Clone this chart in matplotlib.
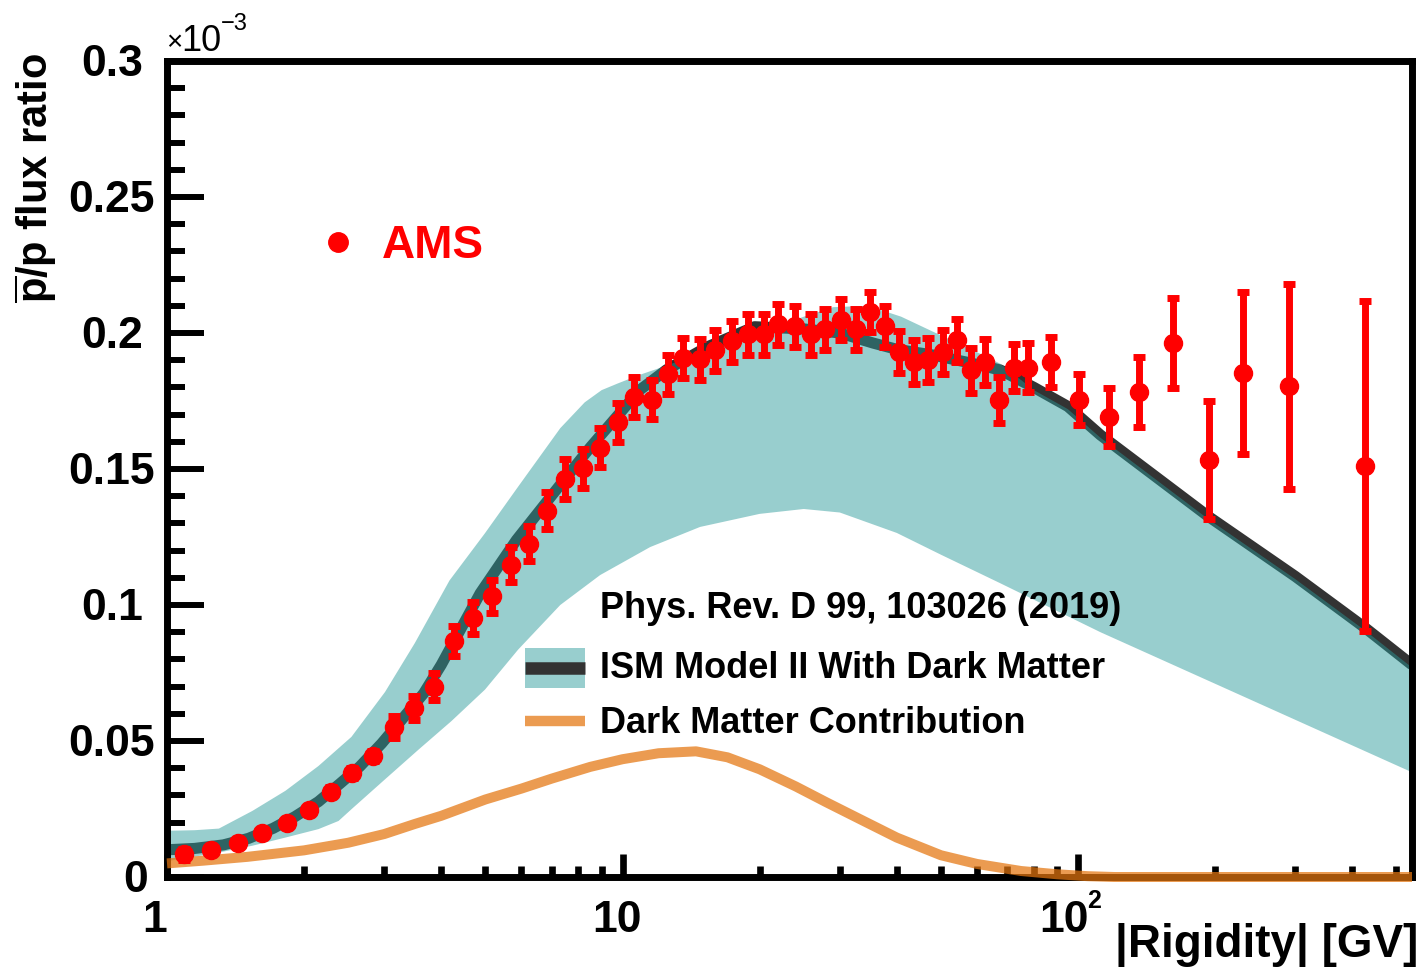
import numpy as np
import matplotlib
matplotlib.use("Agg")
import matplotlib.pyplot as plt
from matplotlib import transforms
from matplotlib.ticker import FixedLocator, MultipleLocator, NullFormatter
from matplotlib.patches import Rectangle
from matplotlib.lines import Line2D

plt.rcParams['font.family'] = ['Liberation Sans', 'DejaVu Sans']
plt.rcParams['mathtext.fontset'] = 'custom'
plt.rcParams['mathtext.rm'] = 'Liberation Sans'
plt.rcParams['mathtext.bf'] = 'Liberation Sans:bold'

# AMS antiproton-to-proton flux ratio (units of 1e-3)
ams_rigidity = [1.09, 1.25, 1.43, 1.62, 1.83, 2.05, 2.29, 2.55, 2.84, 3.15,
                3.49, 3.86, 4.26, 4.69, 5.16, 5.68, 6.23, 6.82, 7.47, 8.17,
                8.93, 9.75, 10.6, 11.6, 12.6, 13.6, 14.8, 16.0, 17.4, 18.9,
                20.4, 22.0, 23.9, 25.9, 27.9, 30.1, 32.5, 35.0, 37.6, 40.5,
                43.6, 46.9, 50.5, 54.3, 58.3, 62.6, 67.2, 72.3, 77.8, 87.3,
                100.7, 116.8, 136.3, 161.3, 193.5, 230.8, 290.0, 427.6]
ams_ratio = [0.0084, 0.0100, 0.0125, 0.0161, 0.0200, 0.0246, 0.0314, 0.0381, 0.0445, 0.0551,
             0.0622, 0.0699, 0.0867, 0.0952, 0.1032, 0.1148, 0.1225, 0.1346, 0.1463, 0.1502,
             0.1579, 0.1671, 0.1765, 0.1755, 0.1848, 0.1908, 0.1903, 0.1936, 0.1969, 0.1995,
             0.1995, 0.2032, 0.2024, 0.1995, 0.2013, 0.2049, 0.2013, 0.2077, 0.2024, 0.1930,
             0.1893, 0.1900, 0.1930, 0.1973, 0.1863, 0.1893, 0.1753, 0.1873, 0.1873, 0.1893,
             0.1755, 0.1692, 0.1783, 0.1963, 0.1533, 0.1853, 0.1804, 0.1511]
ams_error = [0.0020, 0.0010, 0.0010, 0.0010, 0.0012, 0.0014, 0.0016, 0.0018, 0.0020, 0.0040,
             0.0045, 0.0050, 0.0055, 0.0058, 0.0060, 0.0065, 0.0065, 0.0068, 0.0072, 0.0072,
             0.0072, 0.0072, 0.0072, 0.0072, 0.0072, 0.0075, 0.0075, 0.0075, 0.0075, 0.0075,
             0.0075, 0.0075, 0.0075, 0.0075, 0.0075, 0.0075, 0.0075, 0.0075, 0.0075, 0.0078,
             0.0080, 0.0080, 0.0080, 0.0080, 0.0083, 0.0085, 0.0085, 0.0088, 0.0090, 0.0092,
             0.0095, 0.0107, 0.0130, 0.0165, 0.0216, 0.0297, 0.0376, 0.0608]

# ISM Model II with dark matter: central curve
model_rigidity = [1.0, 1.15, 1.33, 1.51, 1.71, 1.91, 2.15, 2.4, 2.65, 2.96,
                  3.27, 3.66, 4.0, 4.87, 5.85, 7.05, 8.5, 10.0, 10.9, 12.5,
                  15.4, 19.5, 25.0, 30.0, 35.5, 40.0, 48.0, 58.0, 67.5, 80.0,
                  95.0, 112.0, 193.5, 300.0, 427.6, 541.0]
model_ratio = [0.0100, 0.0105, 0.0118, 0.0142, 0.0179, 0.0222, 0.0277, 0.0344, 0.0406, 0.0491,
               0.0577, 0.0675, 0.0780, 0.1043, 0.1239, 0.1410, 0.1580, 0.1717, 0.1790, 0.1865,
               0.1950, 0.2023, 0.2015, 0.2000, 0.1963, 0.1940, 0.1919, 0.1890, 0.1864, 0.1800,
               0.1730, 0.1625, 0.1325, 0.1105, 0.0915, 0.0780]

# Uncertainty band: upper and lower edges
band_hi_rigidity = [1.0, 1.15, 1.3, 1.54, 1.82, 2.15, 2.54, 3.01, 3.5, 4.17,
                    4.99, 5.9, 7.3, 8.26, 9.0, 9.78, 10.9, 12.5, 15.0, 20.0,
                    25.0, 29.0, 34.6, 40.9, 48.3, 57.0, 67.5, 80.0, 95.0, 112.0,
                    193.5, 300.0, 427.6, 541.0]
band_hi_ratio = [0.0170, 0.0172, 0.0178, 0.0243, 0.0317, 0.0408, 0.0515, 0.0680, 0.0860, 0.1090,
                 0.1264, 0.1435, 0.1650, 0.1745, 0.1790, 0.1815, 0.1846, 0.1880, 0.1930, 0.2000,
                 0.2060, 0.2095, 0.2100, 0.2060, 0.2003, 0.1948, 0.1887, 0.1790, 0.1720, 0.1615,
                 0.1315, 0.1095, 0.0905, 0.0770]
band_lo_rigidity = [1.0, 1.3, 1.54, 1.82, 2.15, 2.38, 2.54, 3.01, 3.57, 4.21,
                    4.99, 5.9, 7.3, 8.93, 11.5, 14.8, 20.0, 25.0, 30.0, 40.0,
                    50.0, 67.5, 112.0, 541.0]
band_lo_ratio = [0.0058, 0.0090, 0.0115, 0.0145, 0.0176, 0.0206, 0.0249, 0.0359, 0.0469, 0.0573,
                 0.0689, 0.0836, 0.1000, 0.1110, 0.1213, 0.1287, 0.1335, 0.1353, 0.1340, 0.1265,
                 0.1185, 0.1080, 0.0900, 0.0385]

# Dark matter contribution
dm_rigidity = [1.0, 1.2, 1.5, 2.0, 2.5, 3.0, 3.5, 4.0, 5.0, 6.0,
               7.0, 8.5, 10.0, 12.0, 14.5, 17.0, 20.0, 24.0, 28.0, 33.0,
               40.0, 50.0, 60.0, 75.0, 90.0, 105.0, 120.0, 541.0]
dm_ratio = [0.0050, 0.0060, 0.0074, 0.0098, 0.0126, 0.0158, 0.0195, 0.0225, 0.0285, 0.0325,
            0.0362, 0.0405, 0.0433, 0.0455, 0.0462, 0.0440, 0.0396, 0.0333, 0.0275, 0.0215,
            0.0145, 0.0080, 0.0048, 0.0022, 0.0010, 0.0003, 0.0, 0.0]

y_ticks = [0.0, 0.05, 0.1, 0.15, 0.2, 0.25, 0.3]
y_tick_labels = ['0', '0.05', '0.1', '0.15', '0.2', '0.25', '0.3']
x_ticks = [1, 10, 100]
x_tick_labels = ['1', '10', '10']
x_minor_ticks = [2, 3, 4, 5, 6, 7, 8, 9, 20, 30, 40, 50, 60, 70, 80, 90,
                 200, 300, 400, 500]

W, H = 1425, 967
fig = plt.figure(figsize=(W / 100, H / 100), dpi=100)
fig.patch.set_facecolor('white')


def fx(px):
    return px / W


def fy(py):
    return 1 - py / H


ax = fig.add_axes([fx(167), fy(877), (1412 - 167) / W, (877 - 61) / H])
ax.set_xscale('log')
ax.set_xlim(1, 541)
ax.set_ylim(0, 0.3)

BAND = (0.16, 0.60, 0.60)
BAND_ALPHA = 0.48
LINE = '#333333'
DM = '#E4750E'
DM_ALPHA = 0.72

ax.plot(model_rigidity, model_ratio, color=LINE, lw=8, solid_capstyle='butt',
        solid_joinstyle='round', zorder=2)
ax.fill(np.r_[band_hi_rigidity, band_lo_rigidity[::-1]],
        np.r_[band_hi_ratio, band_lo_ratio[::-1]],
        color=BAND, alpha=BAND_ALPHA, lw=0, zorder=2.2)
ax.plot(dm_rigidity, dm_ratio, color=DM, alpha=DM_ALPHA, lw=7.2,
        solid_capstyle='butt', solid_joinstyle='round', clip_on=False, zorder=3)
ax.errorbar(ams_rigidity, ams_ratio, yerr=ams_error, fmt='o', ms=13,
            color='red', ecolor='red', elinewidth=5, capsize=4.5, capthick=5, zorder=5)

# frame and ticks
for s in ax.spines.values():
    s.set_linewidth(5)
    s.set_color('black')
ax.xaxis.set_major_locator(FixedLocator(x_ticks))
ax.xaxis.set_minor_locator(FixedLocator(x_minor_ticks))
ax.xaxis.set_major_formatter(NullFormatter())
ax.xaxis.set_minor_formatter(NullFormatter())
ax.yaxis.set_major_locator(MultipleLocator(0.05))
ax.yaxis.set_minor_locator(MultipleLocator(0.01))
ax.yaxis.set_major_formatter(NullFormatter())
ax.tick_params(axis='x', which='major', direction='in', length=16.5, width=4.8,
               bottom=True, top=False, labelbottom=False)
ax.tick_params(axis='x', which='minor', direction='in', length=8, width=4.8,
               bottom=True, top=False)
ax.tick_params(axis='y', which='major', direction='in', length=26.5, width=4.3,
               left=True, right=False, labelleft=False)
ax.tick_params(axis='y', which='minor', direction='in', length=13, width=4.3,
               left=True, right=False)

# y tick labels
y_label_centers = [136, 112, 112, 112, 112, 112, 112]
ytr = transforms.blended_transform_factory(fig.transFigure, ax.transData)
for val, lab, xc in zip(y_ticks, y_tick_labels, y_label_centers):
    ax.text(fx(xc), val, lab,
            transform=transforms.offset_copy(ytr, fig=fig, y=-15.5, units='dots'),
            ha='center', va='baseline', fontsize=32, fontweight='bold', clip_on=False)

# x tick labels
xtr = transforms.blended_transform_factory(ax.transData, fig.transFigure)
x_label_shift = [-12, -6, -14]
for val, lab, dx in zip(x_ticks, x_tick_labels, x_label_shift):
    ax.text(val, fy(932), lab,
            transform=transforms.offset_copy(xtr, fig=fig, x=dx, units='dots'),
            ha='center', va='baseline', fontsize=32, fontweight='bold', clip_on=False)
ax.text(100, fy(908), '2',
        transform=transforms.offset_copy(xtr, fig=fig, x=9, units='dots'),
        ha='left', va='baseline', fontsize=18, fontweight='bold', clip_on=False)

# axis exponent
fig.text(fx(166), fy(50), '\u00d7', fontsize=20, ha='left', va='baseline')
fig.text(fx(181), fy(51), '10', fontsize=26, ha='left', va='baseline')
fig.text(fx(221), fy(30), '\u22123', fontsize=17, ha='left', va='baseline')

# axis titles
fig.text(fx(36), fy(178), r'$\overline{\mathbf{p}}$/p flux ratio', rotation=90,
         ha='center', va='center', fontsize=30, fontweight='bold')
fig.text(fx(1418), fy(957), '|Rigidity| [GV]', ha='right', va='baseline',
         fontsize=33, fontweight='bold')

# AMS legend
fig.add_artist(Line2D([fx(338)], [fy(242)], marker='o', ms=14, color='red',
                      transform=fig.transFigure))
fig.text(fx(382), fy(258), 'AMS', color='red', fontsize=33, fontweight='bold',
         ha='left', va='baseline')

# model legend
LEG_FS = 26
fig.text(fx(600), fy(618), 'Phys. Rev. D 99, 103026 (2019)', fontsize=LEG_FS,
         fontweight='bold', ha='left', va='baseline')
fig.add_artist(Line2D([fx(525), fx(585)], [fy(668), fy(668)], color=LINE, lw=9,
                      solid_capstyle='butt', transform=fig.transFigure))
fig.add_artist(Rectangle((fx(525), fy(688)), 60 / W, 40 / H, transform=fig.transFigure,
                         facecolor=BAND, alpha=BAND_ALPHA, lw=0))
fig.text(fx(600), fy(678), 'ISM Model II With Dark Matter', fontsize=LEG_FS,
         fontweight='bold', ha='left', va='baseline')
fig.add_artist(Line2D([fx(525), fx(585)], [fy(721), fy(721)], color=DM, alpha=DM_ALPHA,
                      lw=7.5, solid_capstyle='butt', transform=fig.transFigure))
fig.text(fx(600), fy(733), 'Dark Matter Contribution', fontsize=LEG_FS,
         fontweight='bold', ha='left', va='baseline')

fig.savefig('out.png', dpi=100, facecolor='white')
